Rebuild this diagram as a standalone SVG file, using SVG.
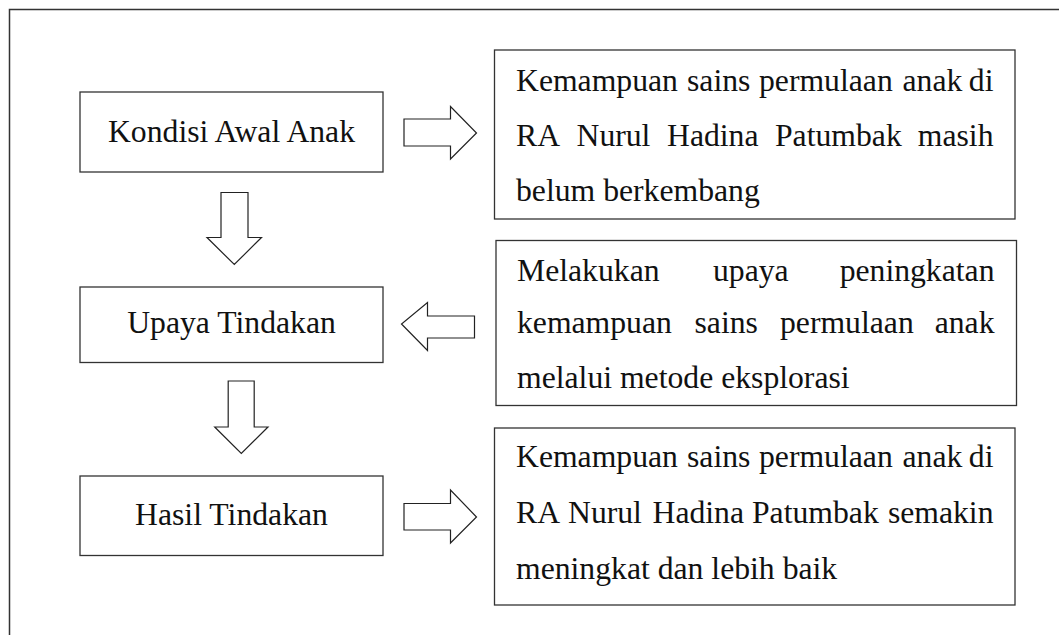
<svg xmlns="http://www.w3.org/2000/svg" width="1059" height="635" viewBox="0 0 1059 635">
<style>
.box{fill:#fff;stroke:#333;stroke-width:1.3}
.arr{fill:#fff;stroke:#222;stroke-width:1.2;stroke-linejoin:miter}
.t{font-family:"Liberation Serif","Times New Roman",serif;font-size:31.7px;fill:#111}
.c{text-anchor:middle}
.e{text-anchor:end}
</style>
<rect width="1059" height="635" fill="#fff"/>
<g id="frame"><path d="M9.5 635 V9.5 H1059" fill="none" stroke="#333" stroke-width="1.5"/></g>
<g id="kondisi"><rect class="box" x="80" y="92" width="303" height="80"/><text class="t c" x="231.5" y="142">Kondisi Awal Anak</text></g>
<g id="upaya"><rect class="box" x="80" y="287" width="303" height="75.5"/><text class="t c" x="231.5" y="332.5">Upaya Tindakan</text></g>
<g id="hasil"><rect class="box" x="80" y="476" width="303" height="79.5"/><text class="t c" x="231.5" y="524.5">Hasil Tindakan</text></g>
<g id="desc1"><rect class="box" x="494.5" y="50" width="520.5" height="169"/>
<text class="t" y="90.5"><tspan x="516">Kemampuan</tspan><tspan x="687">sains</tspan><tspan x="759">permulaan</tspan><tspan x="902.5">anak</tspan><tspan class="e" x="993.5">di</tspan></text>
<text class="t" y="146"><tspan x="516">RA</tspan><tspan x="576.5">Nurul</tspan><tspan x="667">Hadina</tspan><tspan x="775">Patumbak</tspan><tspan class="e" x="993.5">masih</tspan></text>
<text class="t" x="516" y="201">belum berkembang</text></g>
<g id="desc2"><rect class="box" x="496" y="240.5" width="520.5" height="165"/>
<text class="t" y="280.5"><tspan x="517">Melakukan</tspan><tspan x="713">upaya</tspan><tspan class="e" x="994.5">peningkatan</tspan></text>
<text class="t" y="332.5"><tspan x="517">kemampuan</tspan><tspan x="694.5">sains</tspan><tspan x="780">permulaan</tspan><tspan class="e" x="994.5">anak</tspan></text>
<text class="t" x="517" y="387.5">melalui metode eksplorasi</text></g>
<g id="desc3"><rect class="box" x="494.5" y="428" width="520.5" height="177"/>
<text class="t" y="466.5"><tspan x="516">Kemampuan</tspan><tspan x="687">sains</tspan><tspan x="759">permulaan</tspan><tspan x="902.5">anak</tspan><tspan class="e" x="993.5">di</tspan></text>
<text class="t" y="523"><tspan x="516">RA</tspan><tspan x="568">Nurul</tspan><tspan x="652.5">Hadina</tspan><tspan x="752">Patumbak</tspan><tspan class="e" x="993.5">semakin</tspan></text>
<text class="t" x="516" y="578.5">meningkat dan lebih baik</text></g>
<g id="connectors">
<polygon class="arr" points="404,119 450.5,119 450.5,106.5 476.5,133 450.5,159 450.5,146 404,146"/>
<polygon class="arr" points="221,192.5 248,192.5 248,237.5 261.5,237.5 234.3,264.5 207,237.5 221,237.5"/>
<polygon class="arr" points="474.5,316 427.5,316 427.5,302.5 401.5,324 427.5,350.5 427.5,338 474.5,338"/>
<polygon class="arr" points="228.2,381 254.2,381 254.2,427 268,427 241.3,453.5 214.7,427 228.2,427"/>
<polygon class="arr" points="404,503.5 450.5,503.5 450.5,490 476.5,517 450.5,543 450.5,530 404,530"/>
</g>
</svg>
